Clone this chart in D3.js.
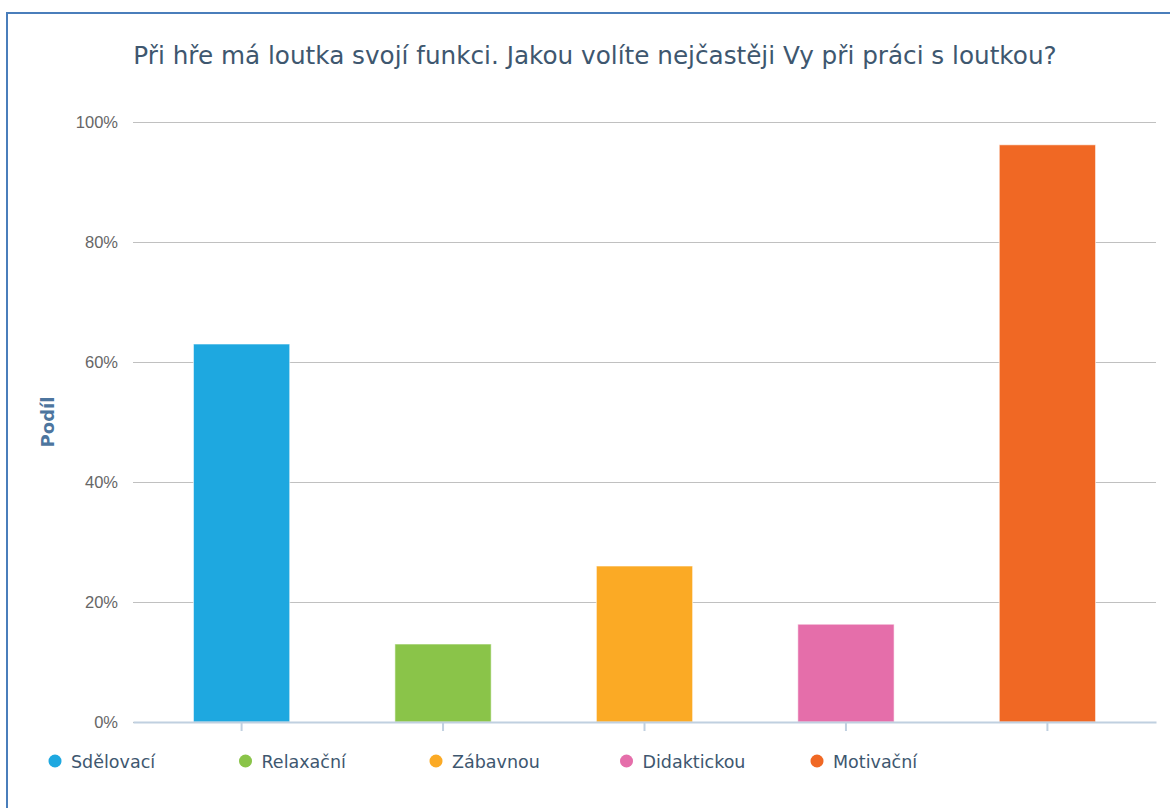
<!DOCTYPE html>
<html>
<head>
<meta charset="utf-8">
<script src="https://cdn.jsdelivr.net/npm/d3@7"></script>
<style>
  html, body { margin: 0; padding: 0; background: #fff; }
  svg { display: block; }
</style>
</head>
<body>
<div id="chart"></div>
<script>
const categories = ['Sdělovací', 'Relaxační', 'Zábavnou', 'Didaktickou', 'Motivační'];
const values = [63.0, 13.0, 26.0, 16.3, 96.2];
const colors = ['#1ea8e0', '#8ac449', '#fbaa25', '#e56eaa', '#f06824'];
const yTicks = [0, 20, 40, 60, 80, 100];
const title = 'Při hře má loutka svojí funkci. Jakou volíte nejčastěji Vy při práci s loutkou?';
const yTitle = 'Podíl';

const width = 1170,
  height = 808;
const margin = { top: 122, right: 14, bottom: 86, left: 133 };

const svg = d3.select('#chart').append('svg')
  .attr('width', width)
  .attr('height', height)
  .style('font-family', '"DejaVu Sans", sans-serif');

// frame
svg.append('rect')
  .attr('x', 7)
  .attr('y', 13)
  .attr('width', width)
  .attr('height', height)
  .attr('fill', '#fff')
  .attr('stroke', '#4a7ebb')
  .attr('stroke-width', 2);

const x = d3.scaleBand()
  .domain(categories)
  .range([margin.left, width - margin.right])
  .paddingInner(0.522)
  .paddingOuter(0.3);

const y = d3.scaleLinear()
  .domain([0, 100])
  .range([height - margin.bottom, margin.top]);

// title
svg.append('text')
  .attr('x', 595)
  .attr('y', 64)
  .attr('text-anchor', 'middle')
  .attr('fill', '#3e576f')
  .style('font-size', '24.7px')
  .text(title);

// grid + y labels
const yAxis = d3.axisLeft(y)
  .tickValues(yTicks)
  .tickSize(-(width - margin.left - margin.right))
  .tickPadding(15)
  .tickFormat((d) => `${d}%`);

const gy = svg.append('g')
  .attr('transform', `translate(${margin.left},0)`)
  .call(yAxis);
gy.select('.domain').remove();
gy.selectAll('.tick line')
  .attr('stroke', '#c0c0c0')
  .attr('stroke-width', 1);
gy.selectAll('.tick text')
  .attr('fill', '#666')
  .style('font-size', '16.5px');

svg.append('text')
  .attr('transform', `translate(54,${y(50)}) rotate(-90)`)
  .attr('text-anchor', 'middle')
  .attr('fill', '#4d759e')
  .style('font-size', '18px')
  .style('font-weight', 'bold')
  .text(yTitle);

// bars
svg.append('g')
  .selectAll('rect')
  .data(categories)
  .join('rect')
    .attr('x', (d) => x(d))
    .attr('y', (d, i) => y(values[i]))
    .attr('width', x.bandwidth())
    .attr('height', (d, i) => y(0) - y(values[i]))
    .attr('fill', (d, i) => colors[i])
    .attr('stroke', '#fff')
    .attr('stroke-opacity', 0.6)
    .attr('stroke-width', 1);

// x axis
const xAxis = d3.axisBottom(x)
  .tickSize(9)
  .tickSizeOuter(0)
  .tickFormat('');

const gx = svg.append('g')
  .attr('transform', `translate(0,${y(0)})`)
  .call(xAxis);
gx.select('.domain')
  .attr('stroke', '#c0d0e0')
  .attr('stroke-width', 2);
gx.selectAll('.tick line')
  .attr('stroke', '#c0d0e0')
  .attr('stroke-width', 2);

// legend
const legend = svg.append('g')
  .attr('transform', 'translate(55,761)');

const item = legend.selectAll('g')
  .data(categories)
  .join('g')
    .attr('transform', (d, i) => `translate(${i * 190.5},0)`);

item.append('circle')
  .attr('r', 6.5)
  .attr('fill', (d, i) => colors[i]);

item.append('text')
  .attr('x', 16)
  .attr('y', 6.5)
  .attr('fill', '#3e576f')
  .style('font-size', '17.5px')
  .text((d) => d);
</script>
</body>
</html>
